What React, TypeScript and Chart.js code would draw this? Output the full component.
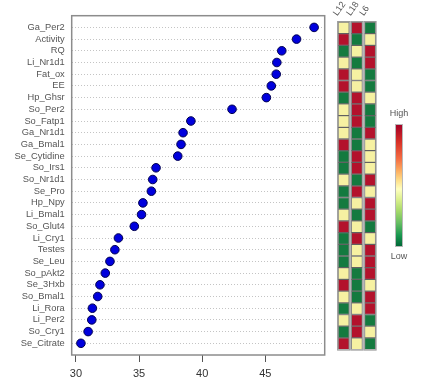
import React, { useEffect, useRef } from "react";
import { Chart, registerables } from "chart.js";
Chart.register(...registerables);

const genes = [
  "Ga_Per2", "Activity", "RQ", "Li_Nr1d1", "Fat_ox", "EE", "Hp_Ghsr",
  "So_Per2", "So_Fatp1", "Ga_Nr1d1", "Ga_Bmal1", "Se_Cytidine", "So_Irs1",
  "So_Nr1d1", "Se_Pro", "Hp_Npy", "Li_Bmal1", "So_Glut4", "Li_Cry1",
  "Testes", "Se_Leu", "So_pAkt2", "Se_3Hxb", "So_Bmal1", "Li_Rora",
  "Li_Per2", "So_Cry1", "Se_Citrate",
];
const values = [
  48.86, 47.47, 46.3, 45.91, 45.86, 45.47, 45.08, 42.36, 39.1, 38.48, 38.32,
  38.06, 36.34, 36.08, 35.97, 35.3, 35.19, 34.62, 33.36, 33.08, 32.69, 32.32,
  31.9, 31.72, 31.3, 31.25, 30.96, 30.39,
];
const xTicks = [30, 35, 40, 45];

const heatColumns = ["L12", "L18", "L6"];
// 1 = high, 0 = mid, -1 = low
const L12 = [0, 1, -1, 0, 1, 1, -1, 0, 0, 0, 1, -1, -1, 0, -1, -1, 0, 1, -1, -1, -1, 0, 1, 0, -1, 0, -1, 1];
const L18 = [1, -1, 0, -1, 0, 0, 1, 1, 1, -1, -1, 1, 1, -1, 1, 0, -1, 0, 1, 0, 0, -1, -1, -1, 0, 1, 1, 0];
const L6 = [-1, 0, 1, 1, -1, -1, 0, -1, -1, 1, 0, 0, 0, 1, 0, 1, 1, -1, 0, 1, 1, 1, 0, 1, 1, -1, 0, -1];
const heatData = [L12, L18, L6];

const FONT = '"Liberation Sans", Arial, sans-serif';
const CELL_START = 0.0;
const CELL_END = 0.84;

function levelColor(v: number) {
  if (v > 0) return "#b3122c";
  if (v < 0) return "#147a3f";
  return "#f6f1a2";
}

const boxPlugin = {
  id: "box",
  afterDraw(chart: any) {
    const { ctx, chartArea: a } = chart;
    ctx.save();
    ctx.strokeStyle = "#8c8c8c";
    ctx.lineWidth = 1.5;
    ctx.strokeRect(a.left, a.top, a.right - a.left, a.bottom - a.top);
    ctx.restore();
  },
};

const colOutline = {
  id: "colOutline",
  afterDatasetsDraw(chart: any) {
    const { ctx, chartArea: a } = chart;
    const xs = chart.scales.x;
    ctx.save();
    ctx.strokeStyle = "#9a9a9a";
    ctx.lineWidth = 1;
    heatColumns.forEach((_, j) => {
      const l = xs.getPixelForValue(j + CELL_START);
      const r = xs.getPixelForValue(j + CELL_END);
      ctx.strokeRect(l - 0.5, a.top - 0.5, r - l + 1, a.bottom - a.top + 1);
    });
    ctx.restore();
  },
};

export default function App() {
  const dotRef = useRef<HTMLCanvasElement>(null);
  const heatRef = useRef<HTMLCanvasElement>(null);

  useEffect(() => {
    const dot = new Chart(dotRef.current!, {
      type: "scatter",
      data: {
        datasets: [
          {
            data: values.map((v, i) => ({ x: v, y: i + 1 })),
            pointRadius: 4.3,
            pointBackgroundColor: "#0000dd",
            pointBorderColor: "#000050",
            pointBorderWidth: 1,
          },
        ],
      },
      options: {
        responsive: false,
        animation: false,
        devicePixelRatio: 1,
        layout: { padding: { left: 0, top: 15.7, right: 3.3, bottom: 0 } },
        plugins: { legend: { display: false }, tooltip: { enabled: false } },
        scales: {
          x: {
            type: "linear",
            min: 29.66,
            max: 49.7,
            afterBuildTicks: (a: any) => {
              a.ticks = xTicks.map((v) => ({ value: v }));
            },
            afterFit: (a: any) => {
              a.height = 29;
            },
            border: { display: false },
            grid: { drawOnChartArea: false, drawTicks: true, tickLength: 7, color: "#555" },
            ticks: { padding: 5, font: { family: FONT, size: 11 }, color: "#333" },
          },
          y: {
            type: "linear",
            reverse: true,
            min: 0,
            max: 29,
            afterBuildTicks: (a: any) => {
              a.ticks = genes.map((_, i) => ({ value: i + 1 }));
            },
            afterFit: (a: any) => {
              a.width = 71.7;
            },
            border: { display: false, dash: [1, 2] },
            grid: { drawTicks: false, color: "#c4c4c4", lineWidth: 1 },
            ticks: {
              padding: 7,
              autoSkip: false,
              font: { family: FONT, size: 9.3 },
              color: "#555",
              callback: (v: any) => genes[Number(v) - 1],
            },
          },
        },
      },
      plugins: [boxPlugin],
    });

    const heat = new Chart(heatRef.current!, {
      type: "bar",
      data: {
        labels: genes,
        datasets: heatColumns.map((name, j) => ({
          label: name,
          data: heatData[j].map(() => [j + CELL_START, j + CELL_END]),
          backgroundColor: heatData[j].map(levelColor),
          borderColor: "rgba(25,25,25,0.55)",
          borderWidth: 1,
          borderSkipped: false,
          grouped: false,
          barPercentage: 1,
          categoryPercentage: 1,
        })) as any,
      },
      options: {
        indexAxis: "y",
        responsive: false,
        animation: false,
        devicePixelRatio: 1,
        layout: { padding: { left: 8, right: 12, top: 0, bottom: 34.4 } },
        plugins: { legend: { display: false }, tooltip: { enabled: false } },
        scales: {
          x: {
            type: "linear",
            position: "top",
            min: 0,
            max: 3.02,
            afterBuildTicks: (a: any) => {
              a.ticks = heatColumns.map((_, j) => ({ value: j + 0.45 }));
            },
            afterFit: (a: any) => {
              a.height = 22;
            },
            border: { display: false },
            grid: { display: false, drawTicks: false },
            ticks: {
              padding: 4,
              minRotation: 55,
              maxRotation: 55,
              autoSkip: false,
              font: { family: FONT, size: 9 },
              color: "#555",
              callback: (_v: any, i: number) => heatColumns[i],
            },
          },
          y: { type: "category", display: false, offset: true },
        },
      },
      plugins: [colOutline],
    });

    return () => {
      dot.destroy();
      heat.destroy();
    };
  }, []);

  const textStyle: React.CSSProperties = {
    position: "absolute",
    fontFamily: FONT,
    fontSize: 9,
    color: "#555",
    width: 40,
    textAlign: "center",
    lineHeight: "10px",
  };

  return (
    <div style={{ position: "absolute", left: 0, top: 0, width: 443, height: 384, background: "#fff" }}>
      <canvas ref={dotRef} width={330} height={384} style={{ position: "absolute", left: 0, top: 0, width: 330, height: 384 }} />
      <canvas ref={heatRef} width={60} height={384} style={{ position: "absolute", left: 330, top: 0, width: 60, height: 384 }} />
      <div style={{ ...textStyle, left: 379, top: 108 }}>High</div>
      <div
        style={{
          position: "absolute",
          left: 395,
          top: 124,
          width: 8,
          height: 123,
          boxSizing: "border-box",
          border: "1px solid #b8b8b8",
          background:
            "linear-gradient(to bottom, #a50026 0%, #d73027 14%, #f46d43 28%, #fdae61 38%, #fee08b 46%, #ffffbf 53%, #d9ef8b 62%, #a6d96a 71%, #66bd63 81%, #1a9850 91%, #006837 100%)",
        }}
      />
      <div style={{ ...textStyle, left: 379, top: 251 }}>Low</div>
    </div>
  );
}
